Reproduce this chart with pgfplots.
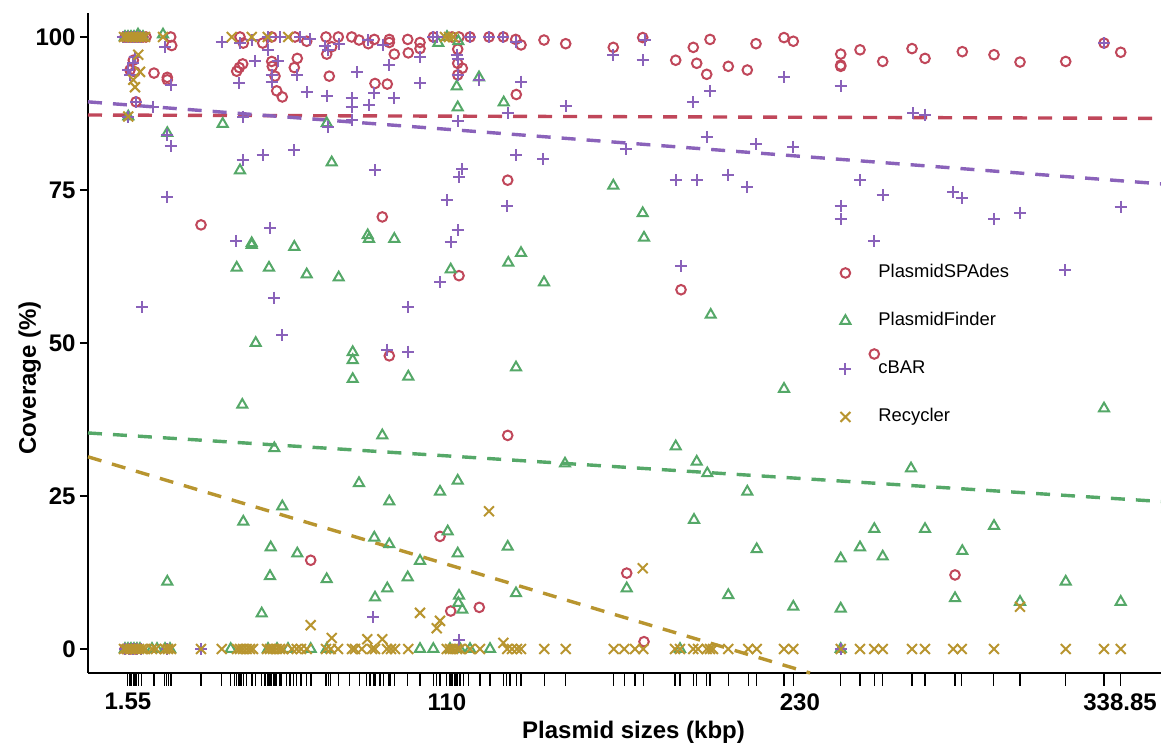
\documentclass[border=0pt]{standalone}
\usepackage{pgfplots}
\pgfplotsset{compat=1.18}
\usepackage{fontspec}
\setmainfont{Liberation Sans}
\definecolor{cRed}{HTML}{C0475A}
\definecolor{cGreen}{HTML}{55A868}
\definecolor{cPurple}{HTML}{8A62BA}
\definecolor{cGold}{HTML}{B8952F}
\begin{document}
\begin{tikzpicture}
\path[use as bounding box] (-44pt,-37pt) rectangle (536.5pt,336.5pt);
\begin{axis}[
  at={(0,0)}, anchor=south west,
  scale only axis, width=536.5pt, height=330pt,
  xmin=-12.04, xmax=352.78, ymin=-3.92, ymax=103.92,
  axis x line*=bottom, axis y line*=left,
  axis line style={line width=0.75pt, -},
  clip=false,
  xtick={1.55,110,230,338.85}, xticklabels={1.55,110,230,338.85},
  ytick={0,25,50,75,100},
  tick align=outside, major tick length=4pt,
  xtick style={draw=none},
  ytick style={line width=0.75pt, black},
  /pgf/number format/assume math mode=true,
  ticklabel style={font=\fontsize{12}{14}\selectfont\bfseries, inner sep=0pt},
  yticklabel style={xshift=-2pt},
  xticklabel style={yshift=-6pt},
  xlabel={Plasmid sizes (kbp)}, ylabel={Coverage (\%)},
  label style={font=\fontsize{12}{14}\selectfont\bfseries},
  xlabel style={at={(axis description cs:0.5084,-0.1)}, anchor=base},
  ylabel style={at={(axis description cs:-0.0485,0.447)}, anchor=base},
  legend cell align=left,
  legend style={at={(0.6999,0.4970)}, anchor=west, draw=none, fill=none,
    font=\fontsize{9.2}{11}\selectfont, row sep=11pt, inner sep=0pt,
    nodes={text height=7pt, text depth=2pt},
    /tikz/every odd column/.append style={column sep=11.5pt}},
]

% PlasmidSPAdes
\addplot[only marks, mark=o, mark size=2.4pt, cRed, mark options={line width=1pt}] coordinates {
(0.54,100)(1.56,100)(2.58,100)(3.60,100)(4.62,100)(5.64,100)(6.66,100)(7.68,100)
(16.08,100)(16.42,98.6)(3.36,96.2)(2.24,94.6)(3.94,94.3)(10.40,94.1)(14.92,93.4)(14.92,93.0)(4.28,89.4)(26.38,69.3)
(39.64,100)(40.76,99.0)(47.36,99.0)(50.42,100)(58.34,100)(62.32,99.3)(68.88,100)(73.06,100)(77.62,100)(80.10,99.5)
(70.82,98.4)(69.12,97.2)(40.56,95.6)(39.40,95.0)(38.52,94.4)(50.42,96.0)(50.62,95.2)(59.12,96.5)(58.10,95.0)(51.54,93.6)(52.12,91.2)(54.02,90.2)(70.00,93.6)
(83.26,98.9)(85.30,99.6)(90.40,99.6)(90.40,99.1)(96.66,99.6)(100.84,99.1)(100.84,98.1)(92.10,97.2)(96.86,97.4)(85.54,92.4)(89.72,92.3)
(105.36,100)(111.72,100)(114.10,100)(117.84,100)(124.30,100)(129.16,100)(133.38,99.6)(135.18,98.7)(143.00,99.5)(150.38,98.9)(166.56,98.3)
(113.66,98.0)(113.66,95.7)(115.22,94.9)(113.66,93.8)(133.58,90.6)(130.66,76.6)(88.02,70.6)
(176.56,99.9)(187.78,96.2)(193.76,98.3)(194.92,95.7)(199.44,99.6)(198.32,93.9)(205.66,95.2)(212.12,94.6)(215.08,98.9)(224.60,99.9)(227.76,99.3)
(243.88,97.2)(243.88,95.4)(243.88,95.2)(250.44,97.9)(258.16,96.0)(268.12,98.1)
(272.54,96.5)(285.22,97.6)(296.00,97.1)(304.84,95.9)(320.38,96.0)(333.40,99.0)(339.08,97.5)
(114.10,61.0)(90.40,47.9)(130.66,34.9)(189.58,58.7)(255.30,48.2)
(63.68,14.5)(107.64,18.4)(111.28,6.2)(121.00,6.8)(171.12,12.4)(177.00,1.2)(282.74,12.1)
(0.54,0)(2.24,0)(4.28,0)
};
\addlegendentry{PlasmidSPAdes}

% PlasmidFinder
\addplot[only marks, mark=triangle, mark size=2.9pt, cGreen, mark options={line width=1pt}] coordinates {
(0.54,100)(1.56,100)(2.58,100)(3.60,100)(4.62,100)(5.64,100)(6.66,100)(4.96,100.4)(13.46,100.4)
(1.66,87.0)(33.76,85.8)(14.92,84.3)(69.12,85.9)(39.64,78.2)(70.82,79.5)
(107.06,99.0)(110.02,100)(113.86,99.3)(113.32,91.9)(120.90,93.4)(129.30,89.3)(113.66,88.5)(166.56,75.7)(176.56,71.2)(177.00,67.2)
(43.62,66.3)(43.62,66.0)(58.10,65.7)(38.52,62.3)(49.50,62.3)(62.32,61.2)(73.20,60.7)(44.98,50.0)(77.96,48.5)(77.96,47.2)(77.96,44.1)(40.42,39.9)(51.30,32.8)
(83.06,67.6)(83.50,67.0)(92.10,67.0)(135.18,64.7)(130.86,63.1)(111.28,62.0)(143.00,59.9)(133.48,46.0)(96.86,44.5)(88.02,34.9)
(199.68,54.6)(224.60,42.5)(187.78,33.1)(194.92,30.6)(333.40,39.3)
(14.92,11.0)(40.76,20.8)(54.02,23.3)(50.08,16.6)(49.84,11.9)(59.12,15.6)(69.12,11.4)(47.02,5.8)(80.10,27.1)
(150.14,30.3)(113.66,27.5)(107.64,25.7)(90.40,24.1)(110.26,19.2)(85.30,18.2)(90.40,17.1)(113.66,15.6)(130.66,16.7)(100.84,14.4)(96.66,11.7)
(171.12,9.9)(89.72,9.9)(85.54,8.4)(133.48,9.1)(114.10,8.7)(113.86,7.5)(115.22,6.4)
(198.52,28.7)(267.78,29.5)(212.12,25.7)(194.00,21.1)(215.32,16.3)(205.66,8.8)(227.76,6.9)(243.88,14.8)(243.88,6.6)(250.44,16.6)(255.30,19.6)(258.16,15.1)
(272.54,19.6)(296.00,20.1)(285.22,16.0)(282.74,8.3)(304.84,7.7)(320.38,11.0)(339.08,7.7)
(0.54,0)(1.56,0)(2.58,0)(3.60,0)(4.62,0)(5.64,0)(9.72,0)(11.42,0)(14.14,0)(15.84,0)(36.48,0)(49.16,0)(52.22,0)(55.96,0)(63.68,0)(69.12,0)
(100.84,0)(105.36,0)(111.04,0)(114.44,0)(117.84,0)(124.64,0)(189.24,0)(243.88,0)
};
\addlegendentry{PlasmidFinder}

% cBAR
\addplot[only marks, mark=+, mark size=3pt, cPurple, mark options={line width=1pt}] coordinates {
(-0.14,100)(0.88,100)(1.90,100)(2.92,100)(3.94,100)(4.96,100)(5.98,100)
(33.42,99.2)(39.64,99.0)(43.62,99.5)(49.06,100)(53.24,100)(60.04,100)(63.44,99.6)(68.54,98.5)(69.66,97.9)(73.40,98.9)
(14.14,98.3)(3.94,96.8)(3.36,95.7)(1.66,94.6)(2.24,93.8)(16.08,92.2)(4.28,89.4)(10.06,88.6)(1.66,87.0)(14.92,84.0)(16.08,82.2)(14.92,73.9)
(49.26,97.9)(44.74,96.1)(52.46,96.1)(59.12,93.8)(50.42,93.8)(50.42,92.7)(39.30,92.4)(62.32,91.0)(69.12,90.4)(79.52,94.3)(77.62,90.0)(77.62,88.6)(77.62,86.4)
(40.76,87.0)(69.66,85.3)(40.56,79.9)(47.36,80.7)(58.10,81.5)(49.84,68.8)
(83.26,99.5)(88.36,98.7)(100.84,96.8)(90.40,95.4)(85.20,90.8)(92.10,90.1)(83.60,88.9)(100.84,92.4)
(105.36,100)(106.52,100)(117.84,100)(124.30,100)(129.16,100)(133.38,99.2)(166.56,97.1)(113.32,97.1)(113.66,96.4)(113.66,93.8)(120.90,93.0)(135.18,92.7)
(130.66,87.5)(150.38,88.7)(113.66,86.2)(133.48,80.7)(142.76,80.1)(85.54,78.2)(115.22,78.4)(114.10,77.2)(170.78,81.7)(109.92,73.3)(130.52,72.4)(113.66,68.4)
(177.34,99.5)(176.56,96.2)(199.44,91.2)(193.76,89.3)(224.60,93.4)(243.88,92.0)(198.32,83.6)(215.08,82.5)(227.76,82.1)
(187.78,76.6)(194.92,76.6)(205.66,77.5)(212.12,75.5)(250.44,76.6)(258.16,74.2)(243.88,72.4)(243.88,70.2)
(268.56,87.5)(272.54,87.3)(282.16,74.6)(285.02,73.7)(296.00,70.2)(304.84,71.3)(333.40,99.0)(339.08,72.3)
(38.28,66.7)(51.30,57.4)(6.42,55.9)(54.02,51.3)(111.28,66.5)(107.64,59.9)(96.66,55.9)(89.72,48.9)(96.86,48.6)
(255.20,66.6)(189.58,62.5)(320.14,61.9)(84.96,5.2)(114.10,1.5)
(0.54,0)(1.90,0)(3.26,0)(4.62,0)(5.98,0)(14.82,0)(26.38,0)(243.88,0)
};
\addlegendentry{cBAR}

% Recycler
\addplot[only marks, mark=x, mark size=3.5pt, cGold, mark options={line width=1pt}] coordinates {
(0.20,100)(1.22,100)(2.24,100)(3.26,100)(4.28,100)(5.30,100)(6.32,100)(7.34,100)(13.46,100)(36.82,100)(43.62,100)(49.06,100)(56.06,100)
(109.34,100)(110.70,100)(112.06,100)
(5.06,97.1)(5.64,94.3)(3.36,93.0)(3.94,91.8)(1.66,87.0)
(63.68,3.9)(70.82,1.8)(124.30,22.5)(100.84,5.9)(107.64,4.6)(106.52,3.4)(82.92,1.6)(88.02,1.6)(129.16,1.0)(176.56,13.2)(304.84,6.9)
(0.20,0)(1.22,0)(2.24,0)(3.26,0)(4.28,0)(5.30,0)(6.32,0)(7.34,0)(9.72,0)(11.08,0)(14.14,0)(15.16,0)(16.18,0)(26.38,0)(33.42,0)
(38.62,0)(39.64,0)(40.66,0)(41.92,0)(43.04,0)(44.06,0)(48.82,0)(49.84,0)(50.86,0)(52.12,0)(53.24,0)(54.26,0)(57.32,0)(58.92,0)(60.38,0)(62.32,0)
(68.88,0)(70.48,0)(72.96,0)(77.72,0)(78.74,0)(81.02,0)(84.52,0)(85.54,0)(89.62,0)(90.98,0)(92.34,0)(96.86,0)
(109.92,0)(111.04,0)(112.06,0)(113.42,0)(114.44,0)(117.84,0)(121.24,0)(130.52,0)(132.12,0)(133.82,0)(135.18,0)(143.10,0)(150.38,0)
(166.70,0)(170.30,0)(173.94,0)(176.76,0)(187.54,0)(189.24,0)(193.76,0)(195.36,0)(198.32,0)(199.44,0)(200.46,0)(205.66,0)(212.46,0)(215.32,0)
(224.60,0)(227.76,0)(243.88,0)(250.44,0)(255.30,0)(258.16,0)(268.12,0)(272.54,0)(282.16,0)(285.02,0)(296.00,0)(320.38,0)(333.40,0)(339.08,0)
};
\addlegendentry{Recycler}

% trend lines
\addplot[cRed, line width=1.7pt, dash pattern=on 7pt off 5.5pt, forget plot] coordinates {(-12.04,87.25)(351.42,86.7)};
\addplot[cPurple, line width=1.7pt, dash pattern=on 7pt off 5.5pt, forget plot] coordinates {(-12.04,89.4)(352.78,76.0)};
\addplot[cGreen, line width=1.7pt, dash pattern=on 7pt off 5.5pt, forget plot] coordinates {(-12.04,35.3)(352.78,24.1)};
\addplot[cGold, line width=1.7pt, dash pattern=on 7pt off 5.5pt, forget plot] coordinates {(-12.04,31.4)(233.44,-3.92)};

% rug of plasmid sizes
\addplot[only marks, mark=|, mark size=3.2pt, black, mark options={line width=0.6pt}, forget plot] coordinates {
(1.32,-5.0)(2.24,-5.0)(2.82,-5.0)(3.36,-5.0)(3.94,-5.0)(4.52,-5.0)(5.06,-5.0)(6.22,-5.0)(10.40,-5.0)(13.90,-5.0)(14.72,-5.0)(15.40,-5.0)(16.18,-5.0)
(26.38,-5.0)(33.42,-5.0)(36.48,-5.0)(37.70,-5.0)(38.52,-5.0)(39.06,-5.0)(39.64,-5.0)(40.22,-5.0)(40.76,-5.0)(41.92,-5.0)(43.72,-5.0)(44.98,-5.0)
(47.02,-5.0)(48.14,-5.0)(48.92,-5.0)(49.40,-5.0)(49.84,-5.0)(50.42,-5.0)(50.96,-5.0)(51.54,-5.0)(52.12,-5.0)(53.24,-5.0)(53.82,-5.0)(55.52,-5.0)
(56.64,-5.0)(57.76,-5.0)(58.92,-5.0)(60.38,-5.0)(62.32,-5.0)(63.78,-5.0)(68.88,-5.0)(69.66,-5.0)(70.48,-5.0)(73.06,-5.0)(76.80,-5.0)(80.20,-5.0)
(82.72,-5.0)(83.84,-5.0)(84.96,-5.0)(85.54,-5.0)(87.24,-5.0)(88.36,-5.0)(90.06,-5.0)(90.64,-5.0)(92.10,-5.0)(96.66,-5.0)(100.84,-5.0)(105.36,-5.0)
(106.52,-5.0)(107.64,-5.0)(109.92,-5.0)(111.04,-5.0)(111.72,-5.0)(112.74,-5.0)(113.42,-5.0)(114.44,-5.0)(115.56,-5.0)(117.26,-5.0)(121.24,-5.0)
(124.64,-5.0)(129.16,-5.0)(130.32,-5.0)(131.44,-5.0)(133.72,-5.0)(135.18,-5.0)(143.10,-5.0)(150.38,-5.0)(166.70,-5.0)(170.30,-5.0)(173.94,-5.0)
(176.76,-5.0)(187.54,-5.0)(189.24,-5.0)(193.76,-5.0)(194.92,-5.0)(198.32,-5.0)(199.44,-5.0)(205.66,-5.0)(212.46,-5.0)(215.32,-5.0)(224.60,-5.0)
(227.76,-5.0)(243.88,-5.0)(250.44,-5.0)(255.30,-5.0)(258.16,-5.0)(268.12,-5.0)(272.54,-5.0)(282.74,-5.0)(285.02,-5.0)(295.76,-5.0)(304.84,-5.0)
(320.38,-5.0)(333.40,-5.0)(339.08,-5.0)
};
\end{axis}
\end{tikzpicture}
\end{document}
